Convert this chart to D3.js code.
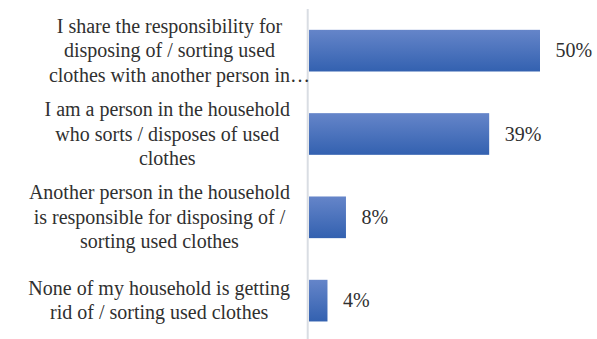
<!DOCTYPE html>
<html>
<head>
<meta charset="utf-8">
<script src="https://cdn.jsdelivr.net/npm/d3@7"></script>
<style>
  html, body { margin: 0; padding: 0; background: #fff; }
  svg { display: block; }
</style>
</head>
<body>
<svg id="chart" width="597" height="339"></svg>
<script>
const categories = [
  ["I share the responsibility for", "disposing of / sorting used", "clothes with another person in\u2026"],
  ["I am a person in the household", "who sorts / disposes of used", "clothes"],
  ["Another person in the household", "is responsible for disposing of /", "sorting used clothes"],
  ["None of my household is getting", "rid of / sorting used clothes"]
];
const values = [50, 39, 8, 4];
const valueLabels = ["50%", "39%", "8%", "4%"];

const svg = d3.select("#chart");
const W = 597, H = 339;
const textColor = "#303030";
const FONT = "Liberation Serif, Tinos, Times New Roman, serif";

const x = d3.scaleLinear().domain([0, 50]).range([309, 540]);
const y = d3.scaleBand().domain(d3.range(values.length)).range([9, 342.3]).paddingInner(0.5).paddingOuter(0.25);

const defs = svg.append("defs");
const grad = defs.append("linearGradient").attr("id", "barGrad")
  .attr("x1", 0).attr("y1", 0).attr("x2", 0).attr("y2", 1);
grad.append("stop").attr("offset", "0%").attr("stop-color", "#6585c9");
grad.append("stop").attr("offset", "100%").attr("stop-color", "#3361b0");

// bars
svg.append("g").selectAll("rect").data(values).join("rect")
  .attr("x", x(0))
  .attr("y", (d, i) => y(i))
  .attr("width", d => x(d) - x(0))
  .attr("height", y.bandwidth())
  .attr("fill", "url(#barGrad)");

// axis line
svg.append("line")
  .attr("x1", x(0) - 1.3).attr("x2", x(0) - 1.3)
  .attr("y1", 9).attr("y2", H)
  .attr("stroke", "#d9dde3").attr("stroke-width", 2);

// value labels
svg.append("g").selectAll("text").data(values).join("text")
  .style("font-family", FONT).style("font-size", "20px")
  .attr("x", d => x(d) + 15.5)
  .attr("y", (d, i) => y(i) + y.bandwidth() / 2 + 6.8)
  .attr("fill", textColor)
  .text((d, i) => valueLabels[i]);

// category labels: block right-aligned at x=290, lines centered in block
const rightEdge = 290;
const lineH = 24.5;
categories.forEach((lines, i) => {
  const g = svg.append("g");
  const cy = y(i) + y.bandwidth() / 2;
  const n = lines.length;
  const texts = lines.map((ln, j) => {
    const core = ln.replace(/\u2026$/, "");
    const t = g.append("text")
      .style("font-family", FONT).style("font-size", "20px")
      .attr("x", 0)
      .attr("y", cy + (j - (n - 1) / 2) * lineH + 6.6)
      .attr("fill", textColor)
      .text(core);
    const w = t.node().getComputedTextLength();
    t.text(ln);
    return { t, w };
  });
  const maxW = d3.max(texts, d => d.w);
  const center = rightEdge - maxW / 2;
  texts.forEach(d => d.t.attr("x", center - d.w / 2));
});
</script>
</body>
</html>
